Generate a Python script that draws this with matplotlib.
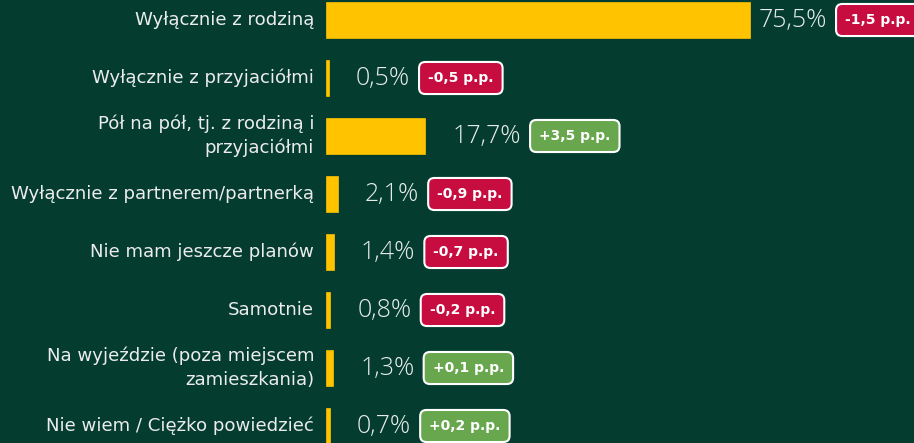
import matplotlib.pyplot as plt

categories = [
    "Wyłącznie z rodziną",
    "Wyłącznie z przyjaciółmi",
    "Pół na pół, tj. z rodziną i\nprzyjaciółmi",
    "Wyłącznie z partnerem/partnerką",
    "Nie mam jeszcze planów",
    "Samotnie",
    "Na wyjeździe (poza miejscem\nzamieszkania)",
    "Nie wiem / Ciężko powiedzieć",
]
values = [75.5, 0.5, 17.7, 2.1, 1.4, 0.8, 1.3, 0.7]
changes = [-1.5, -0.5, 3.5, -0.9, -0.7, -0.2, 0.1, 0.2]

BG = "#043d30"
BAR = "#ffc300"
RED = "#c70c40"
GREEN = "#69a74f"

plt.rcParams["font.family"] = ["DejaVu Sans"]

fig = plt.figure(figsize=(9.14, 4.43), dpi=100, facecolor=BG)
ax = fig.add_axes([0, 0, 1, 1])
ax.set_facecolor(BG)

# pixel layout: bar origin at x=326, 5.62 px per percent, 58 px per row
px = 5.62
ax.set_xlim(-326 / px, (914 - 326) / px)
ax.set_ylim(7 + 17 / 58, -20 / 58)
ax.axis("off")

y = list(range(len(categories)))
ax.barh(y, values, height=0.62, color=BAR, edgecolor=BAR, linewidth=0.5)

for i, (cat, v, ch) in enumerate(zip(categories, values, changes)):
    ax.annotate(cat, xy=(0, i), xytext=(-8.5, 0), textcoords="offset points",
                ha="right", va="center", color="#ececec", fontsize=13.1,
                linespacing=1.4, family=["DejaVu Sans"])
    # the long bar keeps its label close so the badge still fits
    off = 6 if v > 50 else 19.5
    vt = ax.annotate(f"{v:.1f}%".replace(".", ","), xy=(v, i), xytext=(off, 0),
                     textcoords="offset points", ha="left", va="center",
                     color="#e8ece9", fontsize=18, fontweight="light",
                     family=["Open Sans", "DejaVu Sans"])
    sign = "+" if ch > 0 else "-"
    label = f"{sign}{abs(ch):.1f} p.p.".replace(".", ",", 1)
    ax.annotate(label, xy=(1, 0.5), xycoords=vt, xytext=(13, 0),
                textcoords="offset points", ha="left", va="center",
                color="white", fontsize=10, fontweight="bold",
                family=["DejaVu Sans"],
                bbox=dict(boxstyle="round,pad=0.65,rounding_size=0.45",
                          fc=GREEN if ch > 0 else RED, ec="white", lw=1.5))

fig.savefig("out.png", dpi=100, facecolor=BG)
